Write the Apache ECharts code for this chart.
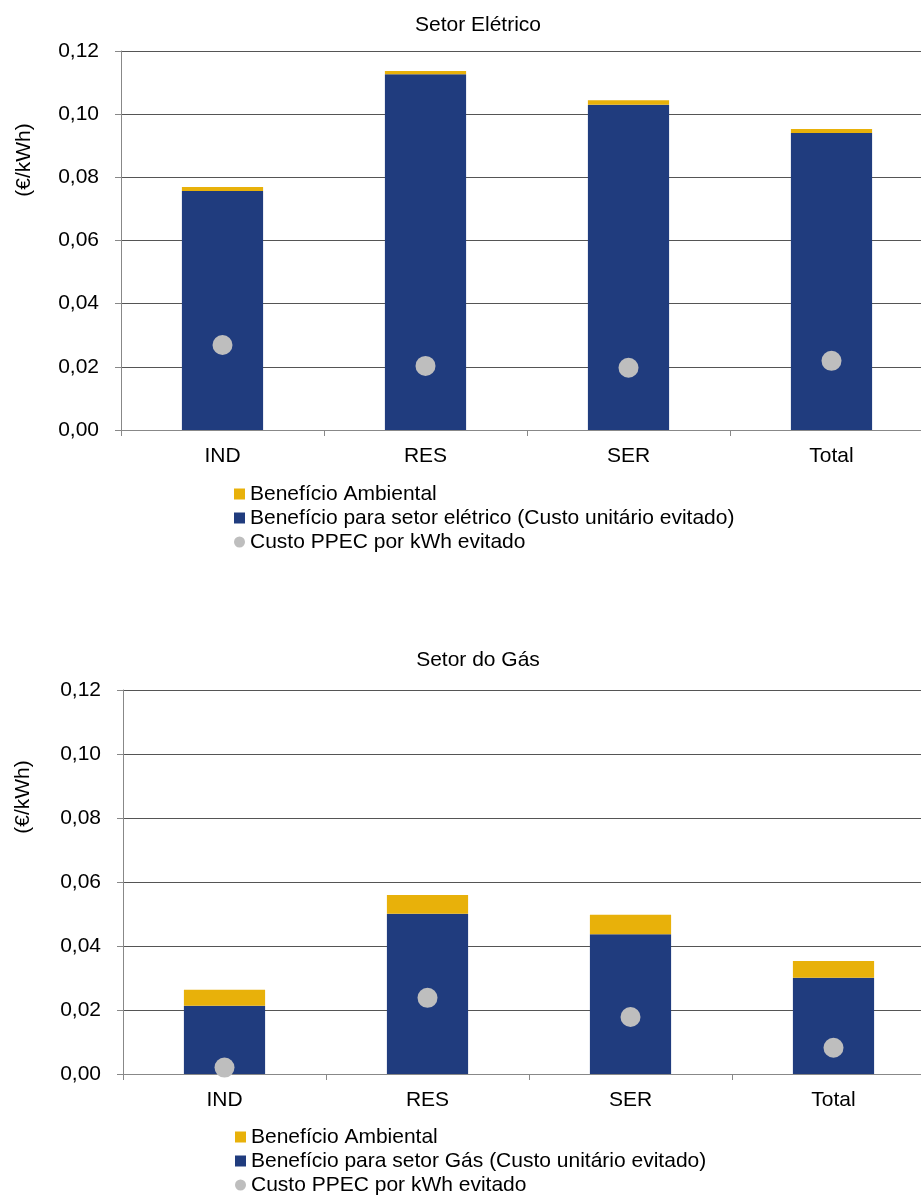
<!DOCTYPE html>
<html><head><meta charset="utf-8">
<script src="https://cdn.jsdelivr.net/npm/echarts@6/dist/echarts.min.js"></script>
<style>html,body{margin:0;padding:0;background:#fff;overflow:hidden;width:921px;height:1195px}#c{width:940px;height:1220px}</style>
</head><body><div id="c"></div>
<script>
const categories = ['IND', 'RES', 'SER', 'Total'];
const eleBeneficio = [0.0757, 0.1126, 0.1030, 0.0940];
const eleAmbiental = [0.0012, 0.0011, 0.0014, 0.0013];
const eleCusto = [0.0269, 0.0203, 0.0197, 0.0219];
const gasBeneficio = [0.0213, 0.0501, 0.0437, 0.0301];
const gasAmbiental = [0.0050, 0.0058, 0.0061, 0.0052];
const gasCusto = [0.0020, 0.0238, 0.0178, 0.0082];
const yTicks = { min: 0, max: 0.12, interval: 0.02 };
const names = {
  amb: 'Benefício Ambiental',
  ele: 'Benefício para setor elétrico (Custo unitário evitado)',
  gas: 'Benefício para setor Gás (Custo unitário evitado)',
  custo: 'Custo PPEC por kWh evitado'
};
const titles = ['Setor Elétrico', 'Setor do Gás'];
const yName = '(€/kWh)';
const FONT = 'Liberation Sans, Arial, sans-serif';
const FS = 21;
const BLUE = '#203C7E', YELLOW = '#E8B10A', GREY = '#BEBEBE';

function xAxis(i) {
  return {
    type: 'category', gridIndex: i, data: categories,
    axisLine: { lineStyle: { color: '#888' } },
    axisTick: { show: true, length: 6, lineStyle: { color: '#888' } },
    axisLabel: { fontSize: FS, color: '#000', fontFamily: FONT, margin: 16 }
  };
}
function yAxis(i) {
  return {
    type: 'value', gridIndex: i, min: yTicks.min, max: yTicks.max, interval: yTicks.interval,
    axisLine: { show: true, lineStyle: { color: '#888' } },
    axisTick: { show: true, length: 6, lineStyle: { color: '#888' } },
    splitLine: { lineStyle: { color: '#555', width: 1 } },
    axisLabel: { fontSize: FS, color: '#000', fontFamily: FONT, margin: 22,
      formatter: v => v.toFixed(2).replace('.', ',') }
  };
}
function legend(left, top, blueName) {
  return {
    orient: 'vertical', left: left, top: top, padding: 0, itemWidth: 11, itemHeight: 11, itemGap: 0,
    data: [ { name: names.amb, icon: 'rect' }, { name: blueName, icon: 'rect' }, { name: names.custo, icon: 'circle' } ],
    textStyle: { fontSize: FS, color: '#000', fontFamily: FONT, lineHeight: 24 }
  };
}
function txt(x, y, s, rot) {
  return { type: 'text', x: x, y: y, rotation: rot || 0,
    style: { text: s, align: 'center', verticalAlign: 'middle', font: FS + 'px ' + FONT, fill: '#000' } };
}
const chart = echarts.init(document.getElementById('c'), null, { renderer: 'canvas' });
chart.setOption({
  animation: false,
  backgroundColor: '#fff',
  grid: [
    { left: 121, top: 51, width: 812, height: 379 },
    { left: 123, top: 690, width: 812, height: 384 }
  ],
  xAxis: [xAxis(0), xAxis(1)],
  yAxis: [yAxis(0), yAxis(1)],
  legend: [ legend(234, 482, names.ele), legend(235, 1125, names.gas) ],
  graphic: [
    txt(478, 25, titles[0]),
    txt(478, 660, titles[1]),
    txt(24, 160, yName, Math.PI / 2),
    txt(23, 797, yName, Math.PI / 2)
  ],
  series: [
    { name: names.ele, type: 'bar', stack: 'e', xAxisIndex: 0, yAxisIndex: 0, barWidth: '40%',
      itemStyle: { color: BLUE }, data: eleBeneficio },
    { name: names.amb, type: 'bar', stack: 'e', xAxisIndex: 0, yAxisIndex: 0, barWidth: '40%',
      itemStyle: { color: YELLOW }, data: eleAmbiental },
    { name: names.custo, type: 'scatter', xAxisIndex: 0, yAxisIndex: 0, symbolSize: 20,
      itemStyle: { color: GREY, opacity: 1 }, data: eleCusto },
    { name: names.gas, type: 'bar', stack: 'g', xAxisIndex: 1, yAxisIndex: 1, barWidth: '40%',
      itemStyle: { color: BLUE }, data: gasBeneficio },
    { name: names.amb, type: 'bar', stack: 'g', xAxisIndex: 1, yAxisIndex: 1, barWidth: '40%',
      itemStyle: { color: YELLOW }, data: gasAmbiental },
    { name: names.custo, type: 'scatter', xAxisIndex: 1, yAxisIndex: 1, symbolSize: 20,
      itemStyle: { color: GREY, opacity: 1 }, data: gasCusto }
  ]
});
</script></body></html>
